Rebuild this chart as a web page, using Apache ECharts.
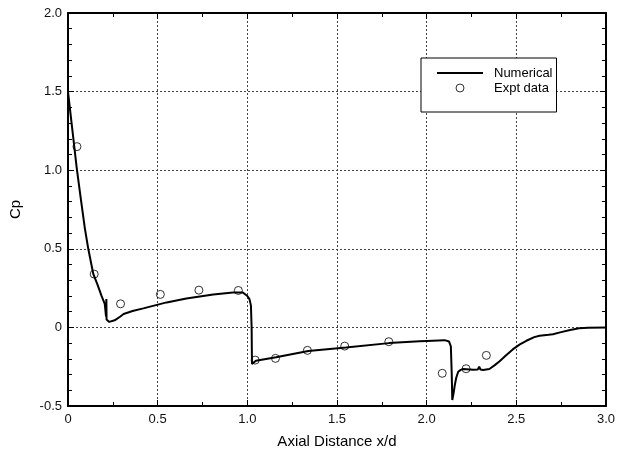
<!DOCTYPE html>
<html>
<head>
<meta charset="utf-8">
<title>Cp vs Axial Distance</title>
<script src="https://cdn.jsdelivr.net/npm/echarts@6/dist/echarts.min.js"></script>
<style>
  html, body { margin: 0; padding: 0; background: #fff; }
  #chart { width: 618px; height: 457px; }
</style>
</head>
<body>
<div id="chart"></div>
<script>
// numerical solution
const numX = [0, 0.01, 0.02, 0.035, 0.048, 0.07, 0.094, 0.113, 0.141, 0.165, 0.187, 0.205, 0.212,
  0.214, 0.215, 0.217, 0.23, 0.24, 0.26, 0.29, 0.31, 0.36, 0.42, 0.55, 0.66, 0.81, 0.92, 0.975,
  1.0, 1.012, 1.02, 1.024, 1.026, 1.035, 1.048, 1.16, 1.34, 1.55, 1.79, 1.96, 2.0, 2.1, 2.125,
  2.135, 2.14, 2.143, 2.15, 2.157, 2.165, 2.176, 2.19, 2.204, 2.26, 2.285, 2.293, 2.3, 2.315,
  2.35, 2.38, 2.407, 2.44, 2.48, 2.52, 2.556, 2.6, 2.63, 2.68, 2.704, 2.75, 2.8, 2.85, 2.9, 3.0];
const numY = [1.5, 1.4, 1.3, 1.15, 1.02, 0.83, 0.63, 0.5, 0.34, 0.27, 0.2, 0.15, 0.07,
  0.18, 0.05, 0.045, 0.035, 0.03, 0.045, 0.068, 0.085, 0.104, 0.121, 0.159, 0.184, 0.21, 0.222, 0.222,
  0.2, 0.18, 0.14, 0.0, -0.232, -0.22, -0.212, -0.19, -0.15, -0.128, -0.1, -0.088, -0.086, -0.081, -0.09,
  -0.12, -0.3, -0.462, -0.42, -0.367, -0.32, -0.282, -0.27, -0.265, -0.27, -0.268, -0.25, -0.268, -0.271,
  -0.265, -0.24, -0.215, -0.18, -0.14, -0.108, -0.085, -0.062, -0.053, -0.047, -0.043, -0.03, -0.016, -0.006, -0.002, 0];

// experimental points
const exptX = [0.05, 0.146, 0.293, 0.515, 0.73, 0.95, 1.044, 1.157, 1.335, 1.543, 1.789, 2.087, 2.22, 2.333];
const exptY = [1.15, 0.339, 0.15, 0.21, 0.237, 0.235, -0.208, -0.197, -0.146, -0.119, -0.091, -0.292, -0.263, -0.178];

const xTicks = [0, 0.5, 1.0, 1.5, 2.0, 2.5, 3.0];
const yTicks = [-0.5, 0, 0.5, 1.0, 1.5, 2.0];

const font = "'Liberation Sans', Arial, sans-serif";
const fmt = v => (v === 0 ? '0' : v.toFixed(1));

const chart = echarts.init(document.getElementById('chart'), null, { renderer: 'canvas' });

const axisBase = {
  type: 'value',
  interval: 0.5,
  axisLine: { show: true, onZero: false, lineStyle: { color: '#000', width: 2 } },
  axisTick: { show: true, inside: true, length: 6, lineStyle: { color: '#000', width: 1 } },
  minorTick: { show: true, length: 4, lineStyle: { color: '#000', width: 1 } },
  minorSplitLine: { show: false },
};

const gridLine = { show: true, lineStyle: { color: '#444', width: 1, type: [2, 2] } };

chart.setOption({
  animation: false,
  backgroundColor: '#fff',
  textStyle: { fontFamily: font },
  grid: { left: 68, right: 10, top: 13, bottom: 51, containLabel: false },
  legend: {
    left: 421, top: 58,
    orient: 'vertical',
    align: 'left',
    backgroundColor: '#fff',
    borderColor: '#000', borderWidth: 1, borderRadius: 0,
    padding: [8, 4, 17, 16],
    itemWidth: 46, itemHeight: 8, itemGap: 1,
    selectedMode: false,
    textStyle: { color: '#000', fontSize: 13, lineHeight: 14, fontFamily: font, padding: [0, 0, 0, 6] },
    data: [
      { name: 'Numerical', icon: 'path://M0,0 H46 V2 H0 Z',
        itemStyle: { color: '#000', borderWidth: 0 } },
      { name: 'Expt data', icon: 'circle',
        itemStyle: { color: 'rgba(255,255,255,0)', borderColor: '#000', borderWidth: 1 } },
    ],
  },
  xAxis: [
    Object.assign({}, axisBase, {
      min: 0, max: 3, position: 'bottom',
      minorTick: Object.assign({}, axisBase.minorTick, { splitNumber: 2 }),
      name: 'Axial Distance x/d', nameLocation: 'middle', nameGap: 28,
      nameTextStyle: { color: '#000', fontSize: 15, fontFamily: font },
      axisLabel: { color: '#111', fontSize: 13, margin: 7, fontFamily: font, formatter: fmt,
        customValues: xTicks },
      splitLine: gridLine,
    }),
    Object.assign({}, axisBase, {
      min: 0, max: 3, position: 'top',
      minorTick: Object.assign({}, axisBase.minorTick, { splitNumber: 2 }),
      axisLabel: { show: false },
      splitLine: { show: false },
    }),
  ],
  yAxis: [
    Object.assign({}, axisBase, {
      min: -0.5, max: 2, position: 'left',
      minorTick: Object.assign({}, axisBase.minorTick, { splitNumber: 5 }),
      name: 'Cp', nameLocation: 'middle', nameGap: 45, nameRotate: 90,
      nameTextStyle: { color: '#000', fontSize: 15, fontFamily: font },
      axisLabel: { color: '#111', fontSize: 13, margin: 6, fontFamily: font, formatter: fmt,
        customValues: yTicks },
      splitLine: gridLine,
    }),
    Object.assign({}, axisBase, {
      min: -0.5, max: 2, position: 'right',
      minorTick: Object.assign({}, axisBase.minorTick, { splitNumber: 5 }),
      axisLabel: { show: false },
      splitLine: { show: false },
    }),
  ],
  series: [
    {
      name: 'Numerical', type: 'line',
      xAxisIndex: 0, yAxisIndex: 0,
      data: numX.map((x, i) => [x, numY[i]]),
      symbol: 'none', smooth: false,
      lineStyle: { color: '#000', width: 2 },
      itemStyle: { color: '#000' },
      z: 3,
    },
    {
      name: 'Expt data', type: 'scatter',
      xAxisIndex: 0, yAxisIndex: 0,
      data: exptX.map((x, i) => [x, exptY[i]]),
      symbol: 'circle', symbolSize: 8,
      itemStyle: { color: 'rgba(255,255,255,0)', borderColor: '#000', borderWidth: 1 },
      z: 4,
    },
  ],
});
</script>
</body>
</html>
